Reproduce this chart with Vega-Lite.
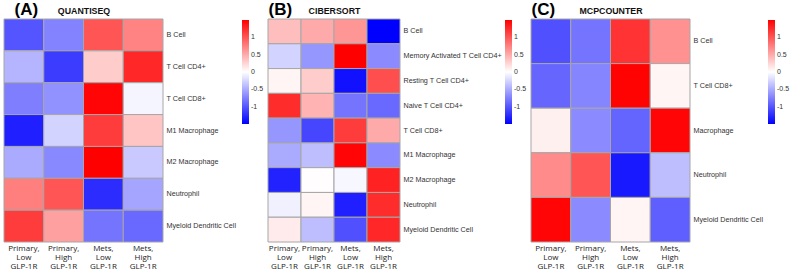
{
  "$schema": "https://vega.github.io/schema/vega-lite/v6.json",
  "background": "white",
  "padding": {"left": 3, "top": 0, "right": 0, "bottom": 0},
  "spacing": 3,
  "config": {
    "view": {"stroke": null},
    "font": "Liberation Sans",
    "axisX": {"orient": "bottom", "domain": false, "ticks": false, "labelAngle": 0, "labelFont": "Open Sans", "labelFontSize": 8, "labelLineHeight": 9, "labelColor": "#222", "labelPadding": 2, "labelBaseline": "top",
              "titleAnchor": "start", "titleAlign": "left", "titleBaseline": "alphabetic", "titleFont": "Liberation Sans", "titleFontSize": 17, "titleFontWeight": "bold", "titleColor": "#000", "titleX": 0, "titleY": -228},
    "axisY": {"orient": "right", "domain": false, "ticks": false, "labelFont": "Liberation Sans", "labelFontSize": 7.2, "labelColor": "#333", "labelPadding": 3,
              "titleAngle": 0, "titleAlign": "center", "titleBaseline": "alphabetic", "titleFont": "Liberation Sans", "titleFontSize": 8.8, "titleFontWeight": "bold", "titleColor": "#111", "titleY": -5.5},
    "legend": {"orient": "none", "legendY": 1, "direction": "vertical", "gradientLength": 104, "gradientThickness": 7, "gradientStrokeWidth": 0, "labelFont": "Liberation Sans", "labelFontSize": 7, "labelColor": "#333", "labelOffset": 4, "title": null}
  },
  "resolve": {"scale": {"color": "independent"}},
  "datasets": {
    "quantiseq": [
      {"cell": "B Cell", "group": "Primary, Low GLP-1R", "z": -1.0},
      {"cell": "B Cell", "group": "Primary, High GLP-1R", "z": -0.73},
      {"cell": "B Cell", "group": "Mets, Low GLP-1R", "z": 1.0},
      {"cell": "B Cell", "group": "Mets, High GLP-1R", "z": 0.73},
      {"cell": "T Cell CD4+", "group": "Primary, Low GLP-1R", "z": -0.44},
      {"cell": "T Cell CD4+", "group": "Primary, High GLP-1R", "z": -1.15},
      {"cell": "T Cell CD4+", "group": "Mets, Low GLP-1R", "z": 0.3},
      {"cell": "T Cell CD4+", "group": "Mets, High GLP-1R", "z": 1.27},
      {"cell": "T Cell CD8+", "group": "Primary, Low GLP-1R", "z": -0.76},
      {"cell": "T Cell CD8+", "group": "Primary, High GLP-1R", "z": -0.65},
      {"cell": "T Cell CD8+", "group": "Mets, Low GLP-1R", "z": 1.47},
      {"cell": "T Cell CD8+", "group": "Mets, High GLP-1R", "z": -0.06},
      {"cell": "M1 Macrophage", "group": "Primary, Low GLP-1R", "z": -1.32},
      {"cell": "M1 Macrophage", "group": "Primary, High GLP-1R", "z": -0.26},
      {"cell": "M1 Macrophage", "group": "Mets, Low GLP-1R", "z": 1.15},
      {"cell": "M1 Macrophage", "group": "Mets, High GLP-1R", "z": 0.35},
      {"cell": "M2 Macrophage", "group": "Primary, Low GLP-1R", "z": -0.5},
      {"cell": "M2 Macrophage", "group": "Primary, High GLP-1R", "z": -0.7},
      {"cell": "M2 Macrophage", "group": "Mets, Low GLP-1R", "z": 1.5},
      {"cell": "M2 Macrophage", "group": "Mets, High GLP-1R", "z": -0.32},
      {"cell": "Neutrophil", "group": "Primary, Low GLP-1R", "z": 0.76},
      {"cell": "Neutrophil", "group": "Primary, High GLP-1R", "z": 1.0},
      {"cell": "Neutrophil", "group": "Mets, Low GLP-1R", "z": -1.24},
      {"cell": "Neutrophil", "group": "Mets, High GLP-1R", "z": -0.53},
      {"cell": "Myeloid Dendritic Cell", "group": "Primary, Low GLP-1R", "z": 1.15},
      {"cell": "Myeloid Dendritic Cell", "group": "Primary, High GLP-1R", "z": 0.56},
      {"cell": "Myeloid Dendritic Cell", "group": "Mets, Low GLP-1R", "z": -0.82},
      {"cell": "Myeloid Dendritic Cell", "group": "Mets, High GLP-1R", "z": -0.88}
    ],
    "cibersort": [
      {"cell": "B Cell", "group": "Primary, Low GLP-1R", "z": 0.38},
      {"cell": "B Cell", "group": "Primary, High GLP-1R", "z": 0.5},
      {"cell": "B Cell", "group": "Mets, Low GLP-1R", "z": 0.62},
      {"cell": "B Cell", "group": "Mets, High GLP-1R", "z": -1.5},
      {"cell": "Memory Activated T Cell CD4+", "group": "Primary, Low GLP-1R", "z": -0.26},
      {"cell": "Memory Activated T Cell CD4+", "group": "Primary, High GLP-1R", "z": -0.62},
      {"cell": "Memory Activated T Cell CD4+", "group": "Mets, Low GLP-1R", "z": 1.5},
      {"cell": "Memory Activated T Cell CD4+", "group": "Mets, High GLP-1R", "z": -0.68},
      {"cell": "Resting T Cell CD4+", "group": "Primary, Low GLP-1R", "z": 0.06},
      {"cell": "Resting T Cell CD4+", "group": "Primary, High GLP-1R", "z": 0.3},
      {"cell": "Resting T Cell CD4+", "group": "Mets, Low GLP-1R", "z": -1.4},
      {"cell": "Resting T Cell CD4+", "group": "Mets, High GLP-1R", "z": 1.04},
      {"cell": "Naive T Cell CD4+", "group": "Primary, Low GLP-1R", "z": 1.24},
      {"cell": "Naive T Cell CD4+", "group": "Primary, High GLP-1R", "z": 0.45},
      {"cell": "Naive T Cell CD4+", "group": "Mets, Low GLP-1R", "z": -0.82},
      {"cell": "Naive T Cell CD4+", "group": "Mets, High GLP-1R", "z": -0.88},
      {"cell": "T Cell CD8+", "group": "Primary, Low GLP-1R", "z": -0.62},
      {"cell": "T Cell CD8+", "group": "Primary, High GLP-1R", "z": -1.09},
      {"cell": "T Cell CD8+", "group": "Mets, Low GLP-1R", "z": 1.15},
      {"cell": "T Cell CD8+", "group": "Mets, High GLP-1R", "z": 0.5},
      {"cell": "M1 Macrophage", "group": "Primary, Low GLP-1R", "z": -0.5},
      {"cell": "M1 Macrophage", "group": "Primary, High GLP-1R", "z": -0.38},
      {"cell": "M1 Macrophage", "group": "Mets, Low GLP-1R", "z": 1.47},
      {"cell": "M1 Macrophage", "group": "Mets, High GLP-1R", "z": -0.68},
      {"cell": "M2 Macrophage", "group": "Primary, Low GLP-1R", "z": -1.3},
      {"cell": "M2 Macrophage", "group": "Primary, High GLP-1R", "z": 0.01},
      {"cell": "M2 Macrophage", "group": "Mets, Low GLP-1R", "z": -0.05},
      {"cell": "M2 Macrophage", "group": "Mets, High GLP-1R", "z": 1.3},
      {"cell": "Neutrophil", "group": "Primary, Low GLP-1R", "z": -0.09},
      {"cell": "Neutrophil", "group": "Primary, High GLP-1R", "z": 0.06},
      {"cell": "Neutrophil", "group": "Mets, Low GLP-1R", "z": -1.32},
      {"cell": "Neutrophil", "group": "Mets, High GLP-1R", "z": 1.24},
      {"cell": "Myeloid Dendritic Cell", "group": "Primary, Low GLP-1R", "z": 0.12},
      {"cell": "Myeloid Dendritic Cell", "group": "Primary, High GLP-1R", "z": -0.38},
      {"cell": "Myeloid Dendritic Cell", "group": "Mets, Low GLP-1R", "z": -1.03},
      {"cell": "Myeloid Dendritic Cell", "group": "Mets, High GLP-1R", "z": 1.27}
    ],
    "mcpcounter": [
      {"cell": "B Cell", "group": "Primary, Low GLP-1R", "z": -1.03},
      {"cell": "B Cell", "group": "Primary, High GLP-1R", "z": -0.82},
      {"cell": "B Cell", "group": "Mets, Low GLP-1R", "z": 1.2},
      {"cell": "B Cell", "group": "Mets, High GLP-1R", "z": 0.65},
      {"cell": "T Cell CD8+", "group": "Primary, Low GLP-1R", "z": -0.9},
      {"cell": "T Cell CD8+", "group": "Primary, High GLP-1R", "z": -0.72},
      {"cell": "T Cell CD8+", "group": "Mets, Low GLP-1R", "z": 1.48},
      {"cell": "T Cell CD8+", "group": "Mets, High GLP-1R", "z": 0.06},
      {"cell": "Macrophage", "group": "Primary, Low GLP-1R", "z": 0.09},
      {"cell": "Macrophage", "group": "Primary, High GLP-1R", "z": -0.68},
      {"cell": "Macrophage", "group": "Mets, Low GLP-1R", "z": -0.91},
      {"cell": "Macrophage", "group": "Mets, High GLP-1R", "z": 1.47},
      {"cell": "Neutrophil", "group": "Primary, Low GLP-1R", "z": 0.68},
      {"cell": "Neutrophil", "group": "Primary, High GLP-1R", "z": 1.0},
      {"cell": "Neutrophil", "group": "Mets, Low GLP-1R", "z": -1.35},
      {"cell": "Neutrophil", "group": "Mets, High GLP-1R", "z": -0.38},
      {"cell": "Myeloid Dendritic Cell", "group": "Primary, Low GLP-1R", "z": 1.47},
      {"cell": "Myeloid Dendritic Cell", "group": "Primary, High GLP-1R", "z": -0.68},
      {"cell": "Myeloid Dendritic Cell", "group": "Mets, Low GLP-1R", "z": 0.06},
      {"cell": "Myeloid Dendritic Cell", "group": "Mets, High GLP-1R", "z": -0.94}
    ]
  },
  "hconcat": [
    {
      "width": 159,
      "height": 223,
      "data": {"name": "quantiseq"},
      "mark": {"type": "rect", "stroke": "#a6a6a6", "strokeWidth": 1},
      "encoding": {
        "x": {"field": "group", "type": "nominal", "sort": ["Primary, Low GLP-1R", "Primary, High GLP-1R", "Mets, Low GLP-1R", "Mets, High GLP-1R"],
              "axis": {"labelExpr": "split(datum.label, ' ')", "title": "(A)", "titleX": 10}},
        "y": {"field": "cell", "type": "nominal", "sort": ["B Cell", "T Cell CD4+", "T Cell CD8+", "M1 Macrophage", "M2 Macrophage", "Neutrophil", "Myeloid Dendritic Cell"],
              "axis": {"title": "QUANTISEQ", "titleX": -79.5}},
        "color": {"field": "z", "type": "quantitative",
                  "scale": {"domain": [-1.5, 0, 1.5], "range": ["#0000ff", "#ffffff", "#ff0000"], "interpolate": "rgb"},
                  "legend": {"legendX": 238, "values": [-1, -0.5, 0, 0.5, 1], "labelExpr": "datum.value < 0 ? '-' + abs(datum.value) : '' + datum.value"}}
      }
    },
    {
      "width": 132,
      "height": 223,
      "data": {"name": "cibersort"},
      "mark": {"type": "rect", "stroke": "#a6a6a6", "strokeWidth": 1},
      "encoding": {
        "x": {"field": "group", "type": "nominal", "sort": ["Primary, Low GLP-1R", "Primary, High GLP-1R", "Mets, Low GLP-1R", "Mets, High GLP-1R"],
              "axis": {"labelExpr": "split(datum.label, ' ')", "title": "(B)"}},
        "y": {"field": "cell", "type": "nominal", "sort": ["B Cell", "Memory Activated T Cell CD4+", "Resting T Cell CD4+", "Naive T Cell CD4+", "T Cell CD8+", "M1 Macrophage", "M2 Macrophage", "Neutrophil", "Myeloid Dendritic Cell"],
              "axis": {"title": "CIBERSORT", "titleX": -66}},
        "color": {"field": "z", "type": "quantitative",
                  "scale": {"domain": [-1.5, 0, 1.5], "range": ["#0000ff", "#ffffff", "#ff0000"], "interpolate": "rgb"},
                  "legend": {"legendX": 237, "values": [-1, -0.5, 0, 0.5, 1], "labelExpr": "datum.value < 0 ? '-' + abs(datum.value) : '' + datum.value"}}
      }
    },
    {
      "width": 159,
      "height": 223,
      "data": {"name": "mcpcounter"},
      "mark": {"type": "rect", "stroke": "#a6a6a6", "strokeWidth": 1},
      "encoding": {
        "x": {"field": "group", "type": "nominal", "sort": ["Primary, Low GLP-1R", "Primary, High GLP-1R", "Mets, Low GLP-1R", "Mets, High GLP-1R"],
              "axis": {"labelExpr": "split(datum.label, ' ')", "title": "(C)"}},
        "y": {"field": "cell", "type": "nominal", "sort": ["B Cell", "T Cell CD8+", "Macrophage", "Neutrophil", "Myeloid Dendritic Cell"],
              "axis": {"title": "MCPCOUNTER", "titleX": -79.5}},
        "color": {"field": "z", "type": "quantitative",
                  "scale": {"domain": [-1.5, 0, 1.5], "range": ["#0000ff", "#ffffff", "#ff0000"], "interpolate": "rgb"},
                  "legend": {"legendX": 237, "values": [-1, -0.5, 0, 0.5, 1], "labelExpr": "datum.value < 0 ? '-' + abs(datum.value) : '' + datum.value"}}
      }
    }
  ]
}
